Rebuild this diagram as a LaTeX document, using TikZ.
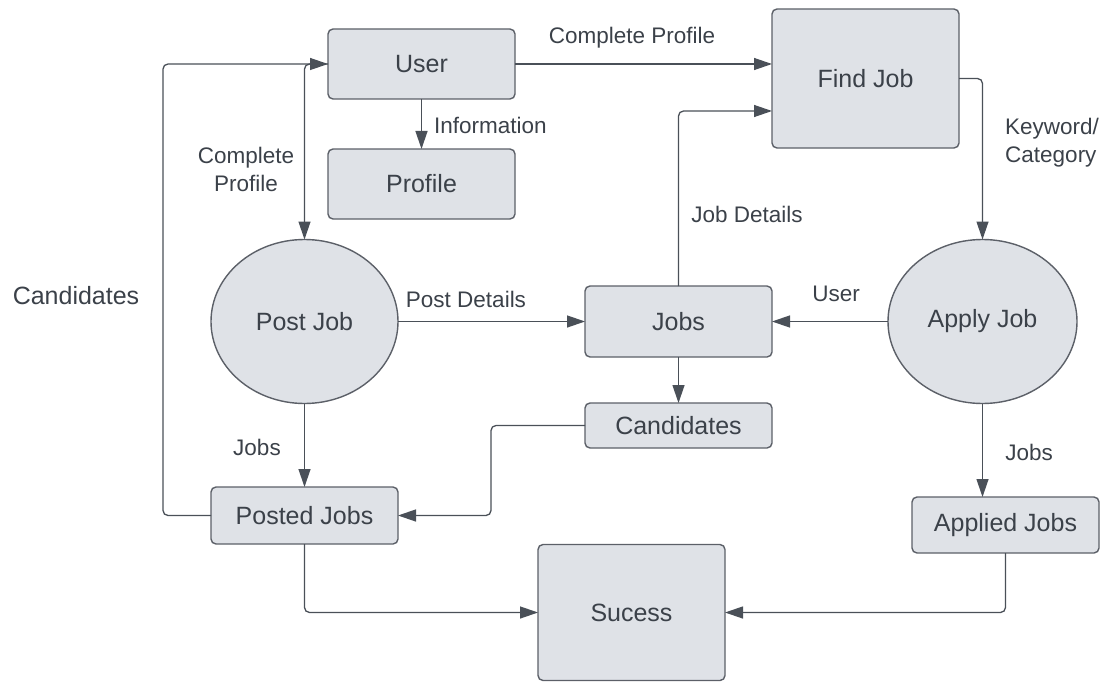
\documentclass[tikz,border=0pt]{standalone}
\usepackage{fontspec}
\setmainfont{Liberation Sans}
\usetikzlibrary{arrows.meta,shapes.geometric}
\definecolor{boxfill}{HTML}{DFE2E7}
\definecolor{boxline}{HTML}{5C6068}
\definecolor{txt}{HTML}{3B4149}
\definecolor{conn}{HTML}{4A5058}
\tikzset{
  proc/.style={rectangle, rounded corners=5pt, draw=boxline, fill=boxfill, line width=1.4pt,
    text=txt, font=\fontsize{25}{30}\selectfont, inner sep=0pt, outer sep=0pt, align=center},
  oval/.style={ellipse, draw=boxline, fill=boxfill, line width=1.4pt,
    text=txt, font=\fontsize{25}{30}\selectfont, inner sep=0pt, outer sep=0pt},
  flow/.style={draw=conn, line width=1.3pt, rounded corners=5pt,
    -{Triangle[length=18pt,width=12pt]}},
  lbl/.style={text=txt, font=\fontsize{22.5}{28}\selectfont, inner sep=0pt, align=center},
  biglbl/.style={text=txt, font=\fontsize{25}{30}\selectfont, inner sep=0pt}
}
\begin{document}
\begin{tikzpicture}[x=1pt,y=-1pt]
\useasboundingbox (0,0) rectangle (1105,682);
% nodes
\node[proc, minimum width=187pt, minimum height=70pt] (user) at (421.5,64) {User};
\node[proc, minimum width=187pt, minimum height=70pt] (profile) at (421.5,184) {Profile};
\node[proc, minimum width=187pt, minimum height=139pt] (findjob) at (865.5,78.5) {Find Job};
\node[oval, minimum width=187pt, minimum height=164pt] (postjob) at (304.5,321.5) {Post Job};
\node[oval, minimum width=189pt, minimum height=164pt] (applyjob) at (982.5,321.5) {Apply Job};
\node[proc, minimum width=187pt, minimum height=71pt] (jobs) at (678.5,321.5) {Jobs};
\node[proc, minimum width=187pt, minimum height=45pt] (candidates) at (678.5,425.5) {Candidates};
\node[proc, minimum width=187pt, minimum height=57pt] (postedjobs) at (304.5,515.5) {Posted Jobs};
\node[proc, minimum width=187pt, minimum height=56pt] (appliedjobs) at (1005.5,525) {Applied Jobs};
\node[proc, minimum width=187pt, minimum height=136pt] (sucess) at (631.5,612.5) {Sucess};
% connectors
\draw[flow] (user.west) -| (postjob.north);
\draw[flow] (postedjobs.west) -- ++(-48,0) |- (user.west);
\draw[flow] (user.east) -- (findjob.west |- user.east);
\draw[flow] (user.south) -- (profile.north);
\draw[flow] (jobs.north) |- ([yshift=-32.5pt]findjob.west);
\draw[flow] (findjob.east) -| (applyjob.north);
\draw[flow] (postjob.east) -- (jobs.west);
\draw[flow] (applyjob.west) -- (jobs.east);
\draw[flow] (jobs.south) -- (candidates.north);
\draw[flow] (candidates.west) -- ++(-94,0) |- (postedjobs.east);
\draw[flow] (postjob.south) -- (postedjobs.north);
\draw[flow] (applyjob.south) -- (applyjob.south |- appliedjobs.north);
\draw[flow] (postedjobs.south) |- (sucess.west);
\draw[flow] (appliedjobs.south) |- (sucess.east);
% labels
\node[lbl] (l1) at (632,38) {Complete Profile};
\node[lbl, anchor=west] (l2) at (434,125) {Information};
\node[lbl] (l3) at (246,169) {Complete\\Profile};
\node[lbl, anchor=west, align=left] (l4) at (1005,143) {Keyword/\\Category};
\node[lbl] (l5) at (747,214) {Job Details};
\node[biglbl] (l6) at (76,296) {Candidates};
\node[lbl] (l7) at (466,299) {Post Details};
\node[lbl] (l8) at (836,294) {User};
\node[lbl] (l9) at (257,447) {Jobs};
\node[lbl] (l10) at (1029,452) {Jobs};
\end{tikzpicture}
\end{document}
